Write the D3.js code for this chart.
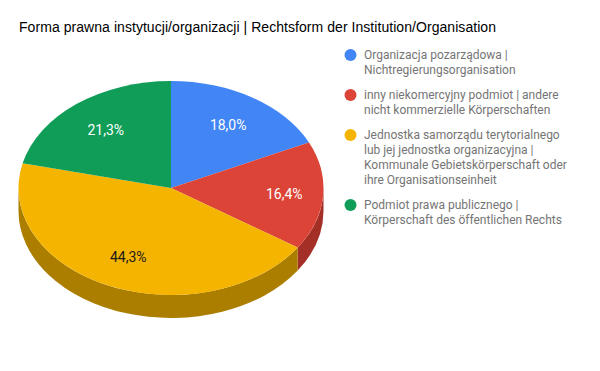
<!DOCTYPE html>
<html>
<head>
<meta charset="utf-8">
<script src="https://cdn.jsdelivr.net/npm/d3@7"></script>
<style>
  html, body { margin: 0; padding: 0; background: #fff; }
  svg { display: block; }
</style>
</head>
<body>
<div id="chart"></div>
<script>
const title = 'Forma prawna instytucji/organizacji | Rechtsform der Institution/Organisation';
const values = [18.0, 16.4, 44.3, 21.3];
const valueLabels = ['18,0%', '16,4%', '44,3%', '21,3%'];
const legendLines = [
  ['Organizacja pozarządowa |', 'Nichtregierungsorganisation'],
  ['inny niekomercyjny podmiot | andere', 'nicht kommerzielle Körperschaften'],
  ['Jednostka samorządu terytorialnego', 'lub jej jednostka organizacyjna |', 'Kommunale Gebietskörperschaft oder', 'ihre Organisationseinheit'],
  ['Podmiot prawa publicznego |', 'Körperschaft des öffentlichen Rechts']
];

const colors = ['#4285f4', '#db4437', '#f4b400', '#0f9d58'];
const sideColors = ['#2e5dab', '#a32f27', '#ab7e00', '#0b6e3e'];
const labelColors = ['#fff', '#fff', '#1a1a1a', '#fff'];
const labelRadius = [0.7, 0.745, 0.7, 0.69];

const W = 600, H = 371;
const cx = 171, cy = 188, rx = 152.5, ry = 107, depth = 23;

const svg = d3.select('#chart').append('svg')
  .attr('width', W).attr('height', H);

svg.append('text')
  .attr('x', 19).attr('y', 32)
  .attr('font-family', '"Liberation Sans", Arial, sans-serif')
  .attr('font-size', 14)
  .attr('textLength', 477)
  .attr('fill', '#000')
  .text(title);

const arcs = d3.pie().sort(null).value(d => d)(values);

// Point on the rim of the tilted disc, angle clockwise from the top
const rim = (a, dy = 0) => [cx + rx * Math.sin(a), cy - ry * Math.cos(a) + dy];

// Side wall only shows on the front half of the disc
const wall = svg.append('g');
arcs.forEach((d, i) => {
  const a0 = Math.max(d.startAngle, Math.PI / 2);
  const a1 = Math.min(d.endAngle, Math.PI * 1.5);
  if (a1 <= a0) return;
  const p0 = rim(a0), p1 = rim(a1);
  const large = a1 - a0 > Math.PI ? 1 : 0;
  wall.append('path')
    .attr('fill', sideColors[i])
    .attr('d', `M${p0} A${rx},${ry} 0 ${large} 1 ${p1} L${rim(a1, depth)} A${rx},${ry} 0 ${large} 0 ${rim(a0, depth)} Z`);
});

// Top face: a plain pie squashed to the ellipse
const arc = d3.arc().innerRadius(0).outerRadius(rx);
svg.append('g')
  .attr('transform', `translate(${cx},${cy}) scale(1,${ry / rx})`)
  .selectAll('path')
  .data(arcs)
  .join('path')
  .attr('d', arc)
  .attr('fill', (d, i) => colors[i]);

svg.append('g')
  .selectAll('text')
  .data(arcs)
  .join('text')
  .attr('x', (d, i) => cx + rx * labelRadius[i] * Math.sin((d.startAngle + d.endAngle) / 2))
  .attr('y', (d, i) => cy - ry * labelRadius[i] * Math.cos((d.startAngle + d.endAngle) / 2) + 5)
  .attr('text-anchor', 'middle')
  .attr('font-family', 'Roboto, sans-serif')
  .attr('font-size', 14)
  .attr('fill', (d, i) => labelColors[i])
  .text((d, i) => valueLabels[i]);

// Legend
const legendX = 364, lineH = 15;
const legendTops = [55, 95, 135, 205];
const legend = svg.append('g').attr('font-family', 'Roboto, sans-serif').attr('font-size', 12);
legendLines.forEach((lines, i) => {
  legend.append('circle')
    .attr('cx', 350.5).attr('cy', legendTops[i]).attr('r', 6)
    .attr('fill', colors[i]);
  lines.forEach((t, j) => {
    legend.append('text')
      .attr('x', legendX)
      .attr('y', legendTops[i] + j * lineH + 4)
      .attr('fill', '#757575')
      .text(t);
  });
});
</script>
</body>
</html>
